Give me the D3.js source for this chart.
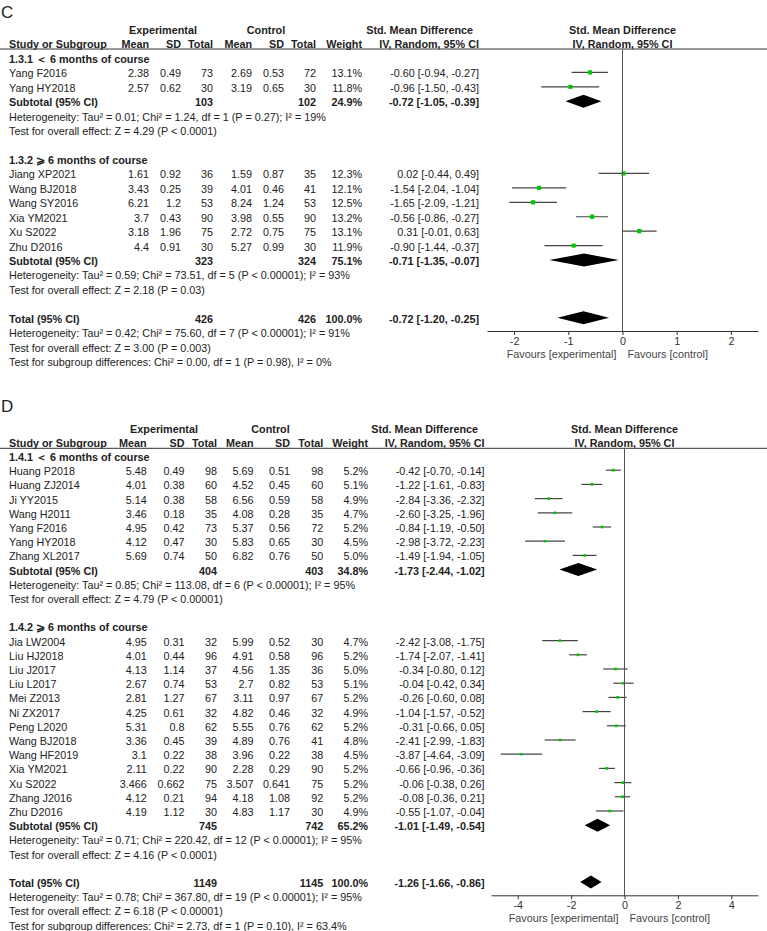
<!DOCTYPE html>
<html lang="en">
<head>
<meta charset="UTF-8" />
<title>Forest plots C and D</title>
<script src="https://d3js.org/d3.v7.min.js"></script>
<style>
  body { margin: 0; background: #fff; }
  svg { display: block; font-family: 'Liberation Sans', Arial, sans-serif; }
  .t { font-size: 10.8px; fill: #222; }
  .b { font-weight: bold; }
  .tick text { font-size: 10.8px; fill: #333; }
</style>
</head>
<body>
<div id="chart"></div>
<script>
// ---------- Panel C data ----------
const cGroupLabels = ["1.3.1 ＜ 6 months of course", "1.3.2 ⩾ 6 months of course"];
const cStudy   = ["Yang F2016", "Yang HY2018", "Jiang XP2021", "Wang BJ2018", "Wang SY2016", "Xia YM2021", "Xu S2022", "Zhu D2016"];
const cGroup   = [0, 0, 1, 1, 1, 1, 1, 1];
const cExpMean = [2.38, 2.57, 1.61, 3.43, 6.21, 3.7, 3.18, 4.4];
const cExpSD   = [0.49, 0.62, 0.92, 0.25, 1.2, 0.43, 1.96, 0.91];
const cExpN    = [73, 30, 36, 39, 53, 90, 75, 30];
const cCtlMean = [2.69, 3.19, 1.59, 4.01, 8.24, 3.98, 2.72, 5.27];
const cCtlSD   = [0.53, 0.65, 0.87, 0.46, 1.24, 0.55, 0.75, 0.99];
const cCtlN    = [72, 30, 35, 41, 53, 90, 75, 30];
const cWeight  = [13.1, 11.8, 12.3, 12.1, 12.5, 13.2, 13.1, 11.9];
const cSMD     = [-0.60, -0.96, 0.02, -1.54, -1.65, -0.56, 0.31, -0.90];
const cLo      = [-0.94, -1.50, -0.44, -2.04, -2.09, -0.86, -0.01, -1.44];
const cHi      = [-0.27, -0.43, 0.49, -1.04, -1.21, -0.27, 0.63, -0.37];
const cSubExpN = [103, 323];
const cSubCtlN = [102, 324];
const cSubWeight = [24.9, 75.1];
const cSubSMD  = [-0.72, -0.71];
const cSubLo   = [-1.05, -1.35];
const cSubHi   = [-0.39, -0.07];
const cSubHet  = ["Heterogeneity: Tau² = 0.01; Chi² = 1.24, df = 1 (P = 0.27); I² = 19%",
                  "Heterogeneity: Tau² = 0.59; Chi² = 73.51, df = 5 (P < 0.00001); I² = 93%"];
const cSubZ    = ["Test for overall effect: Z = 4.29 (P < 0.0001)",
                  "Test for overall effect: Z = 2.18 (P = 0.03)"];
const cTotal   = [426, 426, 100.0, -0.72, -1.20, -0.25]; // expN, ctlN, weight, smd, lo, hi
const cTotalText = ["Heterogeneity: Tau² = 0.42; Chi² = 75.60, df = 7 (P < 0.00001); I² = 91%",
                    "Test for overall effect: Z = 3.00 (P = 0.003)",
                    "Test for subgroup differences: Chi² = 0.00, df = 1 (P = 0.98), I² = 0%"];
const cTicks = [-2, -1, 0, 1, 2];

// ---------- Panel D data ----------
const dGroupLabels = ["1.4.1 ＜ 6 months of course", "1.4.2 ⩾ 6 months of course"];
const dStudy   = ["Huang P2018", "Huang ZJ2014", "Ji YY2015", "Wang H2011", "Yang F2016", "Yang HY2018", "Zhang XL2017",
                  "Jia LW2004", "Liu HJ2018", "Liu J2017", "Liu L2017", "Mei Z2013", "Ni ZX2017", "Peng L2020",
                  "Wang BJ2018", "Wang HF2019", "Xia YM2021", "Xu S2022", "Zhang J2016", "Zhu D2016"];
const dGroup   = [0, 0, 0, 0, 0, 0, 0, 1, 1, 1, 1, 1, 1, 1, 1, 1, 1, 1, 1, 1];
const dExpMean = [5.48, 4.01, 5.14, 3.46, 4.95, 4.12, 5.69, 4.95, 4.01, 4.13, 2.67, 2.81, 4.25, 5.31, 3.36, 3.1, 2.11, 3.466, 4.12, 4.19];
const dExpSD   = [0.49, 0.38, 0.38, 0.18, 0.42, 0.47, 0.74, 0.31, 0.44, 1.14, 0.74, 1.27, 0.61, 0.8, 0.45, 0.22, 0.22, 0.662, 0.21, 1.12];
const dExpN    = [98, 60, 58, 35, 73, 30, 50, 32, 96, 37, 53, 67, 32, 62, 39, 38, 90, 75, 94, 30];
const dCtlMean = [5.69, 4.52, 6.56, 4.08, 5.37, 5.83, 6.82, 5.99, 4.91, 4.56, 2.7, 3.11, 4.82, 5.55, 4.89, 3.96, 2.28, 3.507, 4.18, 4.83];
const dCtlSD   = [0.51, 0.45, 0.59, 0.28, 0.56, 0.65, 0.76, 0.52, 0.58, 1.35, 0.82, 0.97, 0.46, 0.76, 0.76, 0.22, 0.29, 0.641, 1.08, 1.17];
const dCtlN    = [98, 60, 58, 35, 72, 30, 50, 30, 96, 36, 53, 67, 32, 62, 41, 38, 90, 75, 92, 30];
const dWeight  = [5.2, 5.1, 4.9, 4.7, 5.2, 4.5, 5.0, 4.7, 5.2, 5.0, 5.1, 5.2, 4.9, 5.2, 4.8, 4.5, 5.2, 5.2, 5.2, 4.9];
const dSMD     = [-0.42, -1.22, -2.84, -2.60, -0.84, -2.98, -1.49, -2.42, -1.74, -0.34, -0.04, -0.26, -1.04, -0.31, -2.41, -3.87, -0.66, -0.06, -0.08, -0.55];
const dLo      = [-0.70, -1.61, -3.36, -3.25, -1.19, -3.72, -1.94, -3.08, -2.07, -0.80, -0.42, -0.60, -1.57, -0.66, -2.99, -4.64, -0.96, -0.38, -0.36, -1.07];
const dHi      = [-0.14, -0.83, -2.32, -1.96, -0.50, -2.23, -1.05, -1.75, -1.41, 0.12, 0.34, 0.08, -0.52, 0.05, -1.83, -3.09, -0.36, 0.26, 0.21, -0.04];
const dSubExpN = [404, 745];
const dSubCtlN = [403, 742];
const dSubWeight = [34.8, 65.2];
const dSubSMD  = [-1.73, -1.01];
const dSubLo   = [-2.44, -1.49];
const dSubHi   = [-1.02, -0.54];
const dSubHet  = ["Heterogeneity: Tau² = 0.85; Chi² = 113.08, df = 6 (P < 0.00001); I² = 95%",
                  "Heterogeneity: Tau² = 0.71; Chi² = 220.42, df = 12 (P < 0.00001); I² = 95%"];
const dSubZ    = ["Test for overall effect: Z = 4.79 (P < 0.00001)",
                  "Test for overall effect: Z = 4.16 (P < 0.0001)"];
const dTotal   = [1149, 1145, 100.0, -1.26, -1.66, -0.86];
const dTotalText = ["Heterogeneity: Tau² = 0.78; Chi² = 367.80, df = 19 (P < 0.00001); I² = 95%",
                    "Test for overall effect: Z = 6.18 (P < 0.00001)",
                    "Test for subgroup differences: Chi² = 2.73, df = 1 (P = 0.10), I² = 63.4%"];
const dTicks = [-4, -2, 0, 2, 4];

const W = 767, H = 931;
const svg = d3.select("#chart").append("svg").attr("width", W).attr("height", H);

const ci = (m, l, h) => `${m.toFixed(2)} [${l.toFixed(2)}, ${h.toFixed(2)}]`;
const pct = v => v.toFixed(1) + "%";
const sizeScale = d3.scaleSqrt().domain([0, 15]).range([0, 4.6]);

function drawPanel(p, L) {
  const g = svg.append("g");
  const x = d3.scaleLinear().domain(L.domain).range(L.range);

  function txt(s, xx, yy, anchor, bold) {
    return g.append("text").attr("class", "t" + (bold ? " b" : ""))
      .attr("x", xx).attr("y", yy).attr("dominant-baseline", "central")
      .attr("text-anchor", anchor || "start").text(s);
  }

  // panel letter
  g.append("text").attr("x", 1).attr("y", L.letterY).attr("font-size", 17).attr("fill", "#222").text(L.letter);

  // header
  txt("Experimental", L.expC, L.h1, "middle", true);
  txt("Control", L.ctlC, L.h1, "middle", true);
  txt("Std. Mean Difference", L.smdR, L.h1, "end", true);
  txt("Std. Mean Difference", x(0), L.h1, "middle", true);
  txt("Study or Subgroup", 9, L.h2, "start", true);
  const hdr = ["Mean", "SD", "Total", "Mean", "SD", "Total", "Weight", "IV, Random, 95% CI"];
  hdr.forEach((h, i) => txt(h, L.cols[i], L.h2, "end", true));
  txt("IV, Random, 95% CI", x(0), L.h2, "middle", true);
  g.append("line").attr("x1", 0).attr("x2", W).attr("y1", L.lineY).attr("y2", L.lineY)
    .attr("stroke", "#333").attr("stroke-width", 1);

  // build rows
  const rows = [];
  p.groups.forEach((lab, gi) => {
    rows.push({ type: "head", label: lab });
    p.study.forEach((s, i) => { if (p.group[i] === gi) rows.push({ type: "study", i }); });
    rows.push({ type: "sub", gi });
    rows.push({ type: "note", label: p.subHet[gi] });
    rows.push({ type: "note", label: p.subZ[gi] });
    rows.push({ type: "blank" });
  });
  rows.push({ type: "total" });
  p.totalText.forEach(t => rows.push({ type: "note", label: t }));

  const y = d3.scaleLinear().domain([0, 1]).range([L.row0, L.row0 + L.step]);

  const diamond = (m, l, h, yy) => {
    const hh = 6.5;
    g.append("path")
      .attr("d", `M${x(l)},${yy}L${x(m)},${yy - hh}L${x(h)},${yy}L${x(m)},${yy + hh}Z`)
      .attr("fill", "#000");
  };

  rows.forEach((r, k) => {
    const yy = y(k);
    const ym = yy - 1;
    if (r.type === "head") txt(r.label, 9, yy, "start", true);
    else if (r.type === "note") txt(r.label, 9, yy, "start", false);
    else if (r.type === "study") {
      const i = r.i;
      txt(p.study[i], 9, yy);
      const vals = [p.expMean[i], p.expSD[i], p.expN[i], p.ctlMean[i], p.ctlSD[i], p.ctlN[i]];
      vals.forEach((v, j) => txt(String(v), L.cols[j], yy, "end"));
      txt(pct(p.weight[i]), L.cols[6], yy, "end");
      txt(ci(p.smd[i], p.lo[i], p.hi[i]), L.cols[7], yy, "end");
      g.append("line").attr("x1", x(p.lo[i])).attr("x2", x(p.hi[i]))
        .attr("y1", ym).attr("y2", ym).attr("stroke", "#444").attr("stroke-width", 1.2);
      const s = sizeScale(p.weight[i]);
      g.append("rect").attr("x", x(p.smd[i]) - s / 2).attr("y", ym - s / 2)
        .attr("width", s).attr("height", s).attr("fill", "#00c800");
    } else if (r.type === "sub") {
      const gi = r.gi;
      txt("Subtotal (95% CI)", 9, yy, "start", true);
      txt(String(p.subExpN[gi]), L.cols[2], yy, "end", true);
      txt(String(p.subCtlN[gi]), L.cols[5], yy, "end", true);
      txt(pct(p.subWeight[gi]), L.cols[6], yy, "end", true);
      txt(ci(p.subSMD[gi], p.subLo[gi], p.subHi[gi]), L.cols[7], yy, "end", true);
      diamond(p.subSMD[gi], p.subLo[gi], p.subHi[gi], ym);
    } else if (r.type === "total") {
      const t = p.total;
      txt("Total (95% CI)", 9, yy, "start", true);
      txt(String(t[0]), L.cols[2], yy, "end", true);
      txt(String(t[1]), L.cols[5], yy, "end", true);
      txt(pct(t[2]), L.cols[6], yy, "end", true);
      txt(ci(t[3], t[4], t[5]), L.cols[7], yy, "end", true);
      diamond(t[3], t[4], t[5], ym);
    }
  });

  // zero line
  g.append("line").attr("x1", x(0)).attr("x2", x(0)).attr("y1", L.lineY).attr("y2", L.axisY)
    .attr("stroke", "#555").attr("stroke-width", 1);

  // axis
  const ax = g.append("g").attr("transform", `translate(0,${L.axisY})`)
    .call(d3.axisBottom(x).tickValues(p.ticks).tickSize(4).tickSizeOuter(0).tickPadding(2)
      .tickFormat(d3.format("d")));
  ax.select(".domain").attr("stroke", "#333");
  ax.selectAll(".tick line").attr("stroke", "#333");
  ax.selectAll(".tick text").text(d => String(d)).attr("font-family", null);

  txt("Favours [experimental]", x(0) - 6, L.axisY + 23, "end").style("fill", "#444");
  txt("Favours [control]", x(0) + 5, L.axisY + 23, "start").style("fill", "#444");
}

drawPanel({
  groups: cGroupLabels, study: cStudy, group: cGroup,
  expMean: cExpMean, expSD: cExpSD, expN: cExpN, ctlMean: cCtlMean, ctlSD: cCtlSD, ctlN: cCtlN,
  weight: cWeight, smd: cSMD, lo: cLo, hi: cHi,
  subExpN: cSubExpN, subCtlN: cSubCtlN, subWeight: cSubWeight, subSMD: cSubSMD, subLo: cSubLo, subHi: cSubHi,
  subHet: cSubHet, subZ: cSubZ, total: cTotal, totalText: cTotalText, ticks: cTicks
}, {
  letter: "C", letterY: 18, h1: 30, h2: 43.5, lineY: 49, row0: 59, step: 14.43,
  expC: 163, ctlC: 266, smdR: 473,
  cols: [149, 181, 213, 252, 284, 316, 362, 479],
  domain: [-2.5, 2.5], range: [487, 758], axisY: 331
});

drawPanel({
  groups: dGroupLabels, study: dStudy, group: dGroup,
  expMean: dExpMean, expSD: dExpSD, expN: dExpN, ctlMean: dCtlMean, ctlSD: dCtlSD, ctlN: dCtlN,
  weight: dWeight, smd: dSMD, lo: dLo, hi: dHi,
  subExpN: dSubExpN, subCtlN: dSubCtlN, subWeight: dSubWeight, subSMD: dSubSMD, subLo: dSubLo, subHi: dSubHi,
  subHet: dSubHet, subZ: dSubZ, total: dTotal, totalText: dTotalText, ticks: dTicks
}, {
  letter: "D", letterY: 412, h1: 429, h2: 443.3, lineY: 448.3, row0: 457, step: 14.2,
  expC: 164, ctlC: 270.5, smdR: 478,
  cols: [146.7, 184.5, 217, 253.5, 290, 323.3, 368, 484.5],
  domain: [-5, 5], range: [491, 758], axisY: 895.3
});
</script>
</body>
</html>
